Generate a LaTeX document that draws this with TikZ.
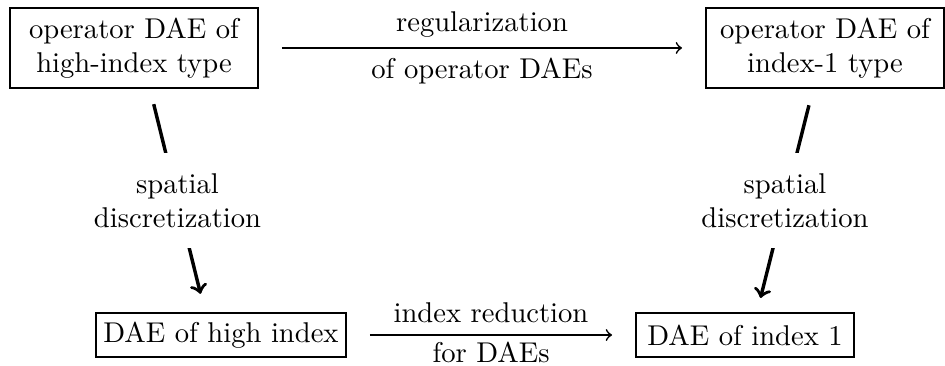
\documentclass[tikz,border=0pt]{standalone}
\usetikzlibrary{calc}
\begin{document}
\begin{tikzpicture}[x=0.3497pt,y=-0.3497pt,
  box/.style={draw,line width=0.8pt,inner sep=0pt,align=center},
  harrow/.style={->,line width=0.6pt,shorten <=8pt,shorten >=8pt},
  varrow/.style={->,line width=1.2pt},
  vlabel/.style={fill=white,align=center,inner xsep=2pt,inner ysep=7pt}]
\useasboundingbox (0,0) rectangle (945,366);

% the four problem classes
\node[box,minimum width=86.7pt,minimum height=28pt] (tl) at (134,48)
  {operator DAE of\\high-index type};
\node[box,minimum width=83.2pt,minimum height=28pt] (tr) at (825,48)
  {operator DAE of\\index-1 type};
\node[box,minimum width=87.4pt,minimum height=15.4pt] (bl) at (221,335)
  {DAE of high index};
\node[box,minimum width=76.2pt,minimum height=15.4pt] (br) at (745,335)
  {DAE of index 1};

% horizontal transformations
\draw[harrow] (tl.east |- 0,48) -- node[above] {regularization}
  node[below] {of operator DAEs} (tr.west |- 0,48);
\draw[harrow] (bl.east) -- node[above,inner sep=3.8pt] {index reduction}
  node[below,inner sep=2.2pt] {for DAEs} (br.west);

% spatial discretization steps
\draw[varrow,shorten <=5.4pt,shorten >=6.5pt] ([xshift=5.6pt]tl.south)
  -- node[vlabel] {spatial\\discretization} ([xshift=-5.6pt]bl.north);
\draw[varrow,shorten <=5.8pt,shorten >=5pt] ([xshift=-4.2pt]tr.south)
  -- node[vlabel] {spatial\\discretization} ([xshift=4.2pt]br.north);
\end{tikzpicture}
\end{document}
